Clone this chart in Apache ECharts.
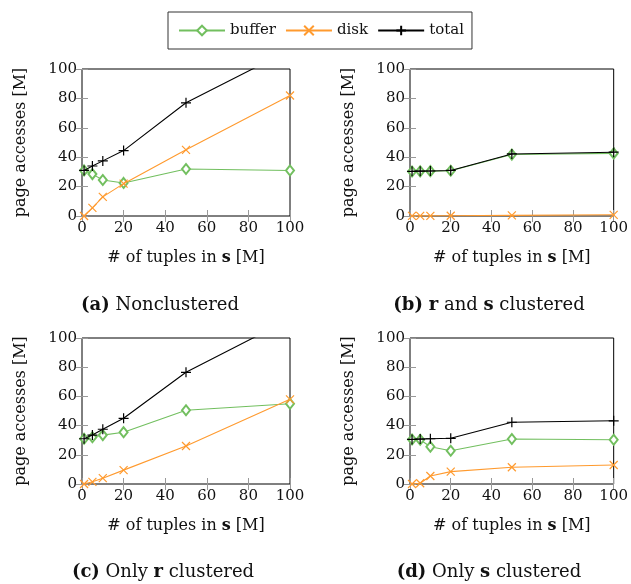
<!DOCTYPE html>
<html>
<head>
<meta charset="utf-8">
<script src="https://cdn.jsdelivr.net/npm/echarts@6/dist/echarts.min.js"></script>
<style>html,body{margin:0;padding:0;background:#fff}#c{width:631px;height:584px}</style>
</head>
<body>
<div id="c"></div>
<script>
// x values: # of tuples in s [M]
const tuples = [1, 5, 10, 20, 50, 100];
const xTicks = [0, 20, 40, 60, 80, 100];
const yTicks = [0, 20, 40, 60, 80, 100];

// (a) Nonclustered
const aBuffer = [31, 28.5, 24.5, 22.5, 32, 31];
const aDisk   = [0, 5.5, 13, 22, 45, 82];
const aTotal  = [31, 34, 37.5, 44.5, 77, 113];
// (b) r and s clustered
const bBuffer = [30.3, 30.4, 30.5, 30.8, 41.8, 42.6];
const bDisk   = [0.1, 0.1, 0.1, 0.2, 0.4, 0.8];
const bTotal  = [30.4, 30.5, 30.6, 31, 42.2, 43.4];
// (c) Only r clustered
const cBuffer = [31, 32, 33.5, 35.5, 50.5, 55];
const cDisk   = [0, 1.5, 4, 9.5, 26, 58];
const cTotal  = [31, 33.5, 37.5, 45, 76.5, 113];
// (d) Only s clustered
const dBuffer = [30.5, 30.3, 25.5, 22.8, 30.8, 30.3];
const dDisk   = [0, 0.5, 5.5, 8.5, 11.5, 13];
const dTotal  = [30.5, 30.8, 31, 31.3, 42.3, 43.3];

const captions = [
  '{b|(a)} Nonclustered',
  '{b|(b)} {b|r} and {b|s} clustered',
  '{b|(c)} Only {b|r} clustered',
  '{b|(d)} Only {b|s} clustered'
];

const FONT = 'DejaVu Serif';
const GREEN = '#72bf5f';
const ORANGE = '#ff9a2e';
const BLACK = '#000';

const panels = [
  {grid: {left: 82, top: 69, width: 208, height: 147}, data: [aBuffer, aDisk, aTotal], cap: [160, 307]},
  {grid: {left: 410, top: 69, width: 209, height: 147}, data: [bBuffer, bDisk, bTotal], cap: [489, 307]},
  {grid: {left: 82, top: 338, width: 208, height: 146}, data: [cBuffer, cDisk, cTotal], cap: [163, 574]},
  {grid: {left: 410, top: 338, width: 209, height: 146}, data: [dBuffer, dDisk, dTotal], cap: [489, 574]}
];

const zip = (xs, ys) => xs.map((x, i) => [x, ys[i]]);

const grids = [], xAxes = [], yAxes = [], series = [], titles = [];
const tickStyle = {show: true, inside: true, length: 6, lineStyle: {color: '#999', width: 1}};
const labelStyle = {color: '#111', fontFamily: FONT, fontSize: 15};

panels.forEach((p, i) => {
  grids.push(Object.assign({show: true, borderColor: '#000', borderWidth: 1, backgroundColor: 'transparent'}, p.grid));
  const base = {type: 'value', min: xTicks[0], max: xTicks[xTicks.length - 1], interval: xTicks[1] - xTicks[0], gridIndex: i, splitLine: {show: false}, axisLine: {show: false}, axisTick: tickStyle};
  xAxes.push(Object.assign({}, base, {
    position: 'bottom',
    axisLabel: Object.assign({margin: 5}, labelStyle),
    name: '{a|# of tuples in }{s|s}{a| [M]}',
    nameLocation: 'middle', nameGap: 34,
    nameTextStyle: {rich: {a: {fontFamily: FONT, fontSize: 16, color: '#111'}, s: {fontFamily: FONT, fontSize: 16, fontWeight: 'bold', color: '#111'}}}
  }));
  xAxes.push(Object.assign({}, base, {position: 'top', axisLabel: {show: false}}));
  const ybase = {type: 'value', min: yTicks[0], max: yTicks[yTicks.length - 1], interval: yTicks[1] - yTicks[0], gridIndex: i, splitLine: {show: false}, axisLine: {show: false}, axisTick: tickStyle};
  yAxes.push(Object.assign({}, ybase, {
    position: 'left',
    axisLabel: Object.assign({margin: 5}, labelStyle),
    name: 'page accesses [M]', nameLocation: 'middle', nameGap: 53, nameRotate: 90,
    nameTextStyle: {fontFamily: FONT, fontSize: 16, color: '#111'}
  }));
  yAxes.push(Object.assign({}, ybase, {position: 'right', axisLabel: {show: false}}));

  const defs = [
    {name: 'buffer', color: GREEN, symbol: 'emptyDiamond', size: [8, 10]},
    {name: 'disk', color: ORANGE, symbol: 'path://M0,0L10,10M0,10L10,0', size: 8},
    {name: 'total', color: BLACK, symbol: 'path://M5,0L5,10M0,5L10,5', size: 10}
  ];
  defs.forEach((d, k) => {
    series.push({
      type: 'line', name: d.name, xAxisIndex: 2 * i, yAxisIndex: 2 * i,
      data: zip(tuples, p.data[k]),
      symbol: d.symbol, symbolSize: d.size, showSymbol: true,
      lineStyle: {color: d.color, width: 1.1},
      itemStyle: {color: d.color, borderColor: d.color, borderWidth: 1.2},
      clip: true, z: 2 + k, emphasis: {disabled: true}
    });
  });

  titles.push({
    text: captions[i], left: p.cap[0] - 5, top: p.cap[1] - 16, textAlign: 'center',
    textStyle: {fontFamily: FONT, fontSize: 18, fontWeight: 'normal', color: '#111',
      rich: {b: {fontFamily: FONT, fontSize: 18, fontWeight: 'bold', color: '#111'}}}
  });
});

const chart = echarts.init(document.getElementById('c'), null, {renderer: 'canvas'});
chart.setOption({
  animation: false,
  backgroundColor: '#fff',
  title: titles,
  legend: {
    data: ['buffer', 'disk', 'total'],
    left: 168, top: 12,
    borderColor: '#333', borderWidth: 1,
    padding: [11, 8, 11, 10],
    itemWidth: 46, itemHeight: 12, itemGap: 9,
    textStyle: {fontFamily: FONT, fontSize: 15, color: '#111'}
  },
  grid: grids, xAxis: xAxes, yAxis: yAxes, series: series
});
</script>
</body>
</html>
